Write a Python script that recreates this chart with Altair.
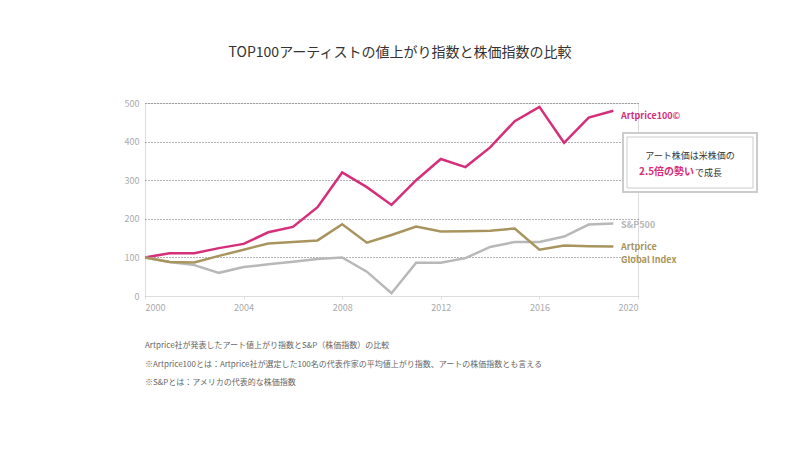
import altair as alt
import pandas as pd

years = list(range(2000, 2020))
art100 = [100,111,111,124,135,165,179,230,320,282,236,300,355,334,385,453,490,397,462,480]
sp500 = [100,88,80,60,75,82,89,96,100,63,7,86,86,98,127,140,140,154,185,188]
glob = [100,88,87,104,120,136,140,144,186,138,158,180,167,168,169,175,120,131,129,128]
series = ["Artprice100©", "S&P500", "Artprice Global Index"]
colors = ["#d62f7a", "#b8b8b8", "#a8955e"]

rows = []
for name, vals in zip(series, [art100, sp500, glob]):
    for y, v in zip(years, vals):
        rows.append({"year": y, "value": v, "series": name})
df = pd.DataFrame(rows)

W, H = 493, 193
F = "Noto Sans CJK JP"
x = alt.X("year:Q", scale=alt.Scale(domain=[2000, 2020], nice=False),
          axis=alt.Axis(values=[2000, 2004, 2008, 2012, 2016, 2020], format="d", title=None,
                        grid=False, labelColor="#aaa", labelFont=F, labelFontSize=9,
                        domainColor="#ddd", tickColor="#ddd", tickSize=3, labelPadding=4))
y = alt.Y("value:Q", scale=alt.Scale(domain=[0, 500]),
          axis=alt.Axis(values=[0, 100, 200, 300, 400, 500], title=None, domain=False, ticks=False,
                        labelColor="#aaa", labelFont=F, labelFontSize=9, labelPadding=6,
                        gridDash=[1, 2], gridColor="#666", gridWidth=1))
lines = alt.Chart(df).mark_line(strokeWidth=2.5).encode(
    x=x, y=y,
    color=alt.Color("series:N", scale=alt.Scale(domain=series, range=colors), legend=None))

def txt(s, px, py, color="#555", size=9, weight="normal", align="left"):
    return alt.Chart(pd.DataFrame({"t": [s]})).mark_text(
        align=align, baseline="middle", font=F, fontSize=size, color=color, fontWeight=weight
    ).encode(x=alt.value(px), y=alt.value(py), text="t:N")

box1 = alt.Chart(pd.DataFrame({"a": [0]})).mark_rect(fill="white", stroke="#ccc", strokeWidth=2).encode(
    x=alt.value(478), x2=alt.value(612), y=alt.value(30), y2=alt.value(89))
box2 = alt.Chart(pd.DataFrame({"a": [0]})).mark_rect(fill="white", stroke="#ccc", strokeWidth=1).encode(
    x=alt.value(482), x2=alt.value(608), y=alt.value(34), y2=alt.value(85))

labels = [
    txt("Artprice100©", 476, 13, colors[0], 9, "bold"),
    txt("S&P500", 476, 122, colors[1], 9, "bold"),
    txt("Artprice", 476, 144, colors[2], 9, "bold"),
    txt("Global Index", 476, 157, colors[2], 9, "bold"),
    txt("アート株価は米株価の", 545, 53, "#333", 9, "normal", "center"),
    txt("2.5倍の勢い", 494, 69, colors[0], 10, "bold"),
    txt("で成長", 550, 70, "#333", 9),
    txt("Artprice社が発表したアート値上がり指数とS&P（株価指数）の比較", 0, 243, "#666", 8),
    txt("※Artprice100とは：Artprice社が選定した100名の代表作家の平均値上がり指数、アートの株価指数とも言える", 0, 262, "#666", 8),
    txt("※S&Pとは：アメリカの代表的な株価指数", 0, 280, "#666", 8),
    txt("TOP100アーティストの値上がり指数と株価指数の比較", 255, -50, "#333", 14, "normal", "center"),
]

chart = alt.layer(lines, box1, box2, *labels).properties(
    width=W, height=H,
    autosize=alt.AutoSizeParams(type="none"),
    padding={"left": 137, "top": 95, "right": 154, "bottom": 145},
).configure_view(stroke=None).configure(background="white")

chart.save("out.html", embed_options={"renderer": "svg", "actions": False})
